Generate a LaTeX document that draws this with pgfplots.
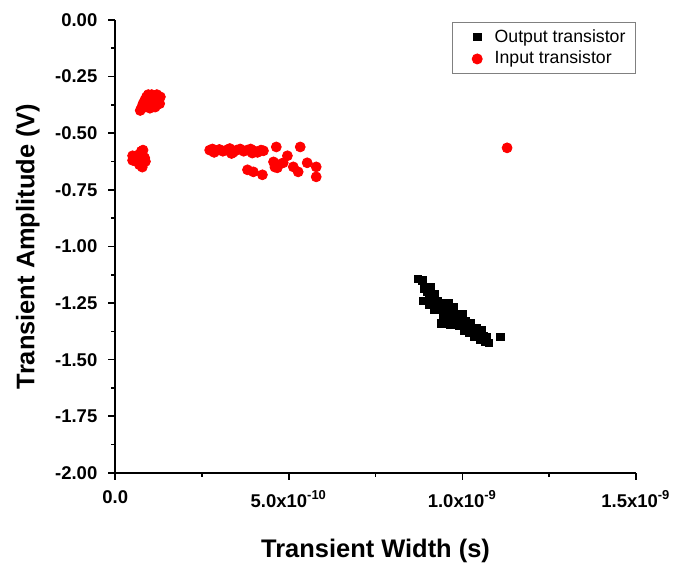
\documentclass[border=0pt]{standalone}
\usepackage{fontspec}
\setmainfont{Liberation Sans}
\usepackage{pgfplots}
\pgfplotsset{compat=1.18}
\definecolor{inred}{RGB}{255,0,0}

% transient width in units of 1e-9 s, amplitude in V
\begin{document}
\begin{tikzpicture}
\begin{axis}[
  scale only axis, width=262pt, height=228pt,
  xmin=0, xmax=1.5, ymin=-2, ymax=0,
  axis lines=left, axis line style={line width=1pt,-},
  xtick={0,0.5,1,1.5},
  xticklabels={0.0,5.0x10\textsuperscript{-10},1.0x10\textsuperscript{-9},1.5x10\textsuperscript{-9}},
  ytick={-2,-1.75,-1.5,-1.25,-1,-0.75,-0.5,-0.25,0},
  yticklabels={-2.00,-1.75,-1.50,-1.25,-1.00,-0.75,-0.50,-0.25,0.00},
  minor x tick num=1, minor y tick num=1,
  tick align=outside, major tick length=3.5pt, minor tick length=2pt,
  every tick/.style={line width=0.8pt, black},
  ticklabel style={font=\bfseries\fontsize{9.3}{10}\selectfont},
  xticklabel style={yshift=-2pt},
  yticklabel style={xshift=-2pt},
  xlabel={Transient Width (s)}, ylabel={Transient Amplitude (V)},
  label style={font=\bfseries\fontsize{12.8}{14}\selectfont},
  xlabel style={yshift=-9pt},
  ylabel style={yshift=1pt},
  clip=false,
  legend style={at={(1,1)}, anchor=north east, yshift=-1pt, draw=gray, line width=0.5pt,
                font=\fontsize{8.9}{10}\selectfont, cells={anchor=west},
                inner xsep=3pt, inner ysep=1.5pt, row sep=-1pt},
  legend image code/.code={\draw[#1] plot coordinates {(0.32cm,0cm)}; \path (0cm,0cm) (0.55cm,0cm);},
  after end axis/.code={\path (rel axis cs:0,1) ++(0,10pt); \path (rel axis cs:0,0.5) ++(-58pt,0);},
]
\addplot[only marks, mark=square*, mark size=1.9pt, color=black] coordinates {
  (0.872,-1.143) (0.885,-1.150) (0.890,-1.185) (0.888,-1.240) (0.900,-1.200)
  (0.905,-1.220) (0.910,-1.180) (0.915,-1.230) (0.920,-1.210) (0.925,-1.260)
  (0.930,-1.240) (0.935,-1.275) (0.940,-1.250) (0.945,-1.300) (0.950,-1.270)
  (0.955,-1.290) (0.960,-1.320) (0.965,-1.280) (0.970,-1.310) (0.975,-1.340)
  (0.980,-1.300) (0.985,-1.330) (0.990,-1.350) (0.995,-1.310) (1.000,-1.340)
  (1.005,-1.370) (1.010,-1.330) (1.015,-1.360) (1.020,-1.380) (1.025,-1.340)
  (1.030,-1.370) (1.035,-1.400) (1.040,-1.360) (1.045,-1.390) (1.050,-1.410)
  (1.055,-1.370) (1.060,-1.395) (1.065,-1.420) (1.070,-1.400) (1.077,-1.426)
  (1.109,-1.400) (0.960,-1.250) (0.975,-1.270) (0.920,-1.280) (0.950,-1.330)
  (1.000,-1.300) (0.940,-1.340) (0.965,-1.345) (0.905,-1.255)
};
\addlegendentry{Output transistor}
\addplot[only marks, mark=*, mark size=2.5pt, color=inred] coordinates {
  (0.075,-0.390) (0.080,-0.370) (0.085,-0.355) (0.090,-0.340) (0.095,-0.330)
  (0.100,-0.345) (0.105,-0.330) (0.110,-0.340) (0.115,-0.335) (0.120,-0.330)
  (0.125,-0.345) (0.130,-0.340) (0.090,-0.380) (0.100,-0.375) (0.110,-0.370)
  (0.120,-0.375) (0.128,-0.370) (0.095,-0.360) (0.105,-0.360) (0.115,-0.360)
  (0.125,-0.360) (0.085,-0.385) (0.100,-0.390) (0.115,-0.385) (0.072,-0.400)
  (0.050,-0.600) (0.055,-0.615) (0.060,-0.600) (0.065,-0.620) (0.070,-0.605)
  (0.075,-0.615) (0.080,-0.600) (0.085,-0.610) (0.087,-0.625) (0.075,-0.580)
  (0.080,-0.575) (0.070,-0.640) (0.078,-0.650) (0.060,-0.625) (0.050,-0.620)
  (0.272,-0.575) (0.280,-0.570) (0.290,-0.578) (0.300,-0.572) (0.310,-0.580)
  (0.320,-0.575) (0.330,-0.568) (0.340,-0.585) (0.350,-0.575) (0.360,-0.570)
  (0.370,-0.580) (0.380,-0.575) (0.390,-0.570) (0.400,-0.578) (0.410,-0.585)
  (0.420,-0.575) (0.427,-0.578) (0.335,-0.590) (0.395,-0.588) (0.285,-0.585)
  (0.464,-0.561) (0.533,-0.561)
  (0.381,-0.662) (0.398,-0.671) (0.424,-0.684) (0.456,-0.627) (0.467,-0.653)
  (0.496,-0.600) (0.484,-0.631) (0.513,-0.649) (0.527,-0.671) (0.553,-0.631)
  (0.579,-0.649) (0.579,-0.693) (0.470,-0.640) (0.460,-0.650)
  (1.129,-0.565)
};
\addlegendentry{Input transistor}
\end{axis}
\end{tikzpicture}
\end{document}
